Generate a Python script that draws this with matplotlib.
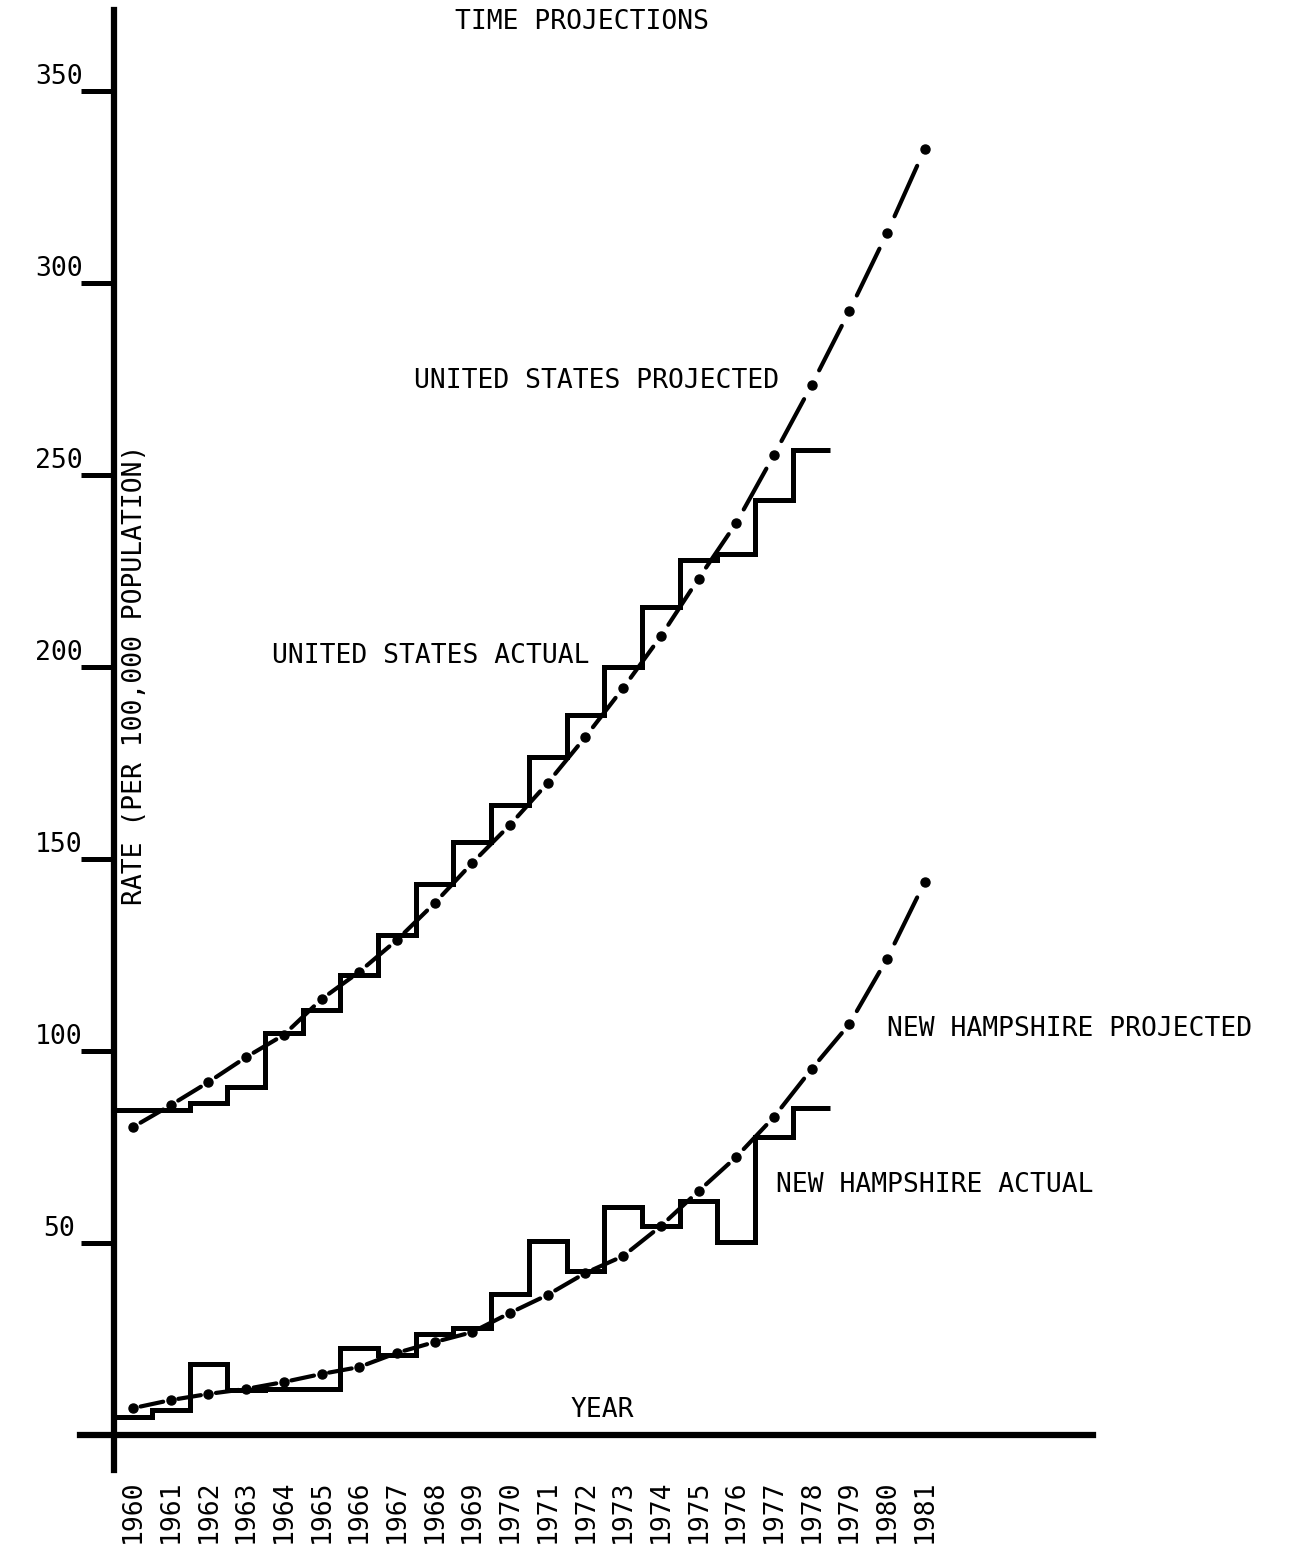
import numpy as np
import matplotlib.pyplot as plt
from matplotlib.collections import LineCollection

# values
years_actual = np.arange(1960, 1979)
us_actual = [84.6, 84.6, 86.5, 90.6, 104.7, 110.7, 119.8, 130.2, 143.5, 154.4,
             164.1, 176.6, 187.5, 200.0, 215.6, 227.9, 229.4, 243.5, 256.5]
nh_actual = [4.7, 6.5, 18.5, 11.8, 12.0, 12.0, 22.7, 20.8, 26.2, 27.8,
             36.7, 50.5, 42.7, 59.4, 54.4, 61.0, 50.3, 77.6, 85.2]

years_proj = np.arange(1960, 1982)
us_proj = [80.2, 85.9, 91.9, 98.4, 104.2, 113.5, 120.6, 128.9, 138.5, 149.0, 158.9,
           169.8, 181.8, 194.5, 208.0, 223.0, 237.5, 255.2, 273.4, 292.7, 313.0, 334.9]
nh_proj = [7.0, 9.1, 10.7, 12.0, 13.8, 15.9, 17.7, 21.4, 24.2, 26.8, 31.8,
           36.5, 42.2, 46.6, 54.4, 63.5, 72.4, 82.8, 95.3, 107.0, 124.0, 144.0]

ytick_vals = [50, 100, 150, 200, 250, 300, 350]
year_labels = [str(y) for y in years_proj]

FONT = 'DejaVu Sans Mono'
FS = 19


def draw_actual(ax, years, vals):
    # one flat step per year, first one runs back to the axis
    edges = np.append(np.asarray(years) - 0.5, years[-1] + 0.5)
    ax.stairs(vals, edges, baseline=None, color='black', linewidth=3.6,
              joinstyle='miter')


def draw_projected(ax, years, vals):
    # dot at every year, one dash in between (dash-dot look)
    x = np.asarray(years, dtype=float)
    y = np.asarray(vals, dtype=float)
    segs = []
    for i in range(len(x) - 1):
        x0 = x[i] + 0.2 * (x[i + 1] - x[i])
        x1 = x[i] + 0.8 * (x[i + 1] - x[i])
        y0 = y[i] + 0.2 * (y[i + 1] - y[i])
        y1 = y[i] + 0.8 * (y[i + 1] - y[i])
        segs.append([(x0, y0), (x1, y1)])
    ax.add_collection(LineCollection(segs, colors='black', linewidths=3.0,
                                     capstyle='round'))
    ax.plot(x, y, 'o', color='black', markersize=6.5)


def main():
    fig = plt.figure(figsize=(12.94, 15.49), dpi=100)
    ax = fig.add_axes([80 / 1294, 79 / 1549, 1013 / 1294, 1460 / 1549])
    ax.set_xlim(1958.594, 1985.464)
    ax.set_ylim(-9.11, 371.1)

    # axes cross each other like the drawing
    for s in ['top', 'right']:
        ax.spines[s].set_visible(False)
    ax.spines['left'].set_position(('data', 1959.5))
    ax.spines['bottom'].set_position(('data', 0))
    ax.spines['left'].set_linewidth(4.5)
    ax.spines['bottom'].set_linewidth(4.5)

    ax.set_yticks(ytick_vals)
    ax.tick_params(axis='y', length=24, width=3.6, labelleft=False)
    for v in ytick_vals:
        ax.annotate(str(v), xy=(1959.5, v), xytext=(-40, 5),
                    textcoords='offset points', ha='center', va='baseline',
                    fontsize=FS, family=FONT)

    ax.set_xticks(years_proj)
    ax.set_xticklabels(year_labels, rotation=90, fontsize=FS, family=FONT)
    ax.tick_params(axis='x', length=0, pad=32)

    draw_actual(ax, years_actual, us_actual)
    draw_actual(ax, years_actual, nh_actual)
    draw_projected(ax, years_proj, us_proj)
    draw_projected(ax, years_proj, nh_proj)

    # labels on the chart
    ax.text(1972.3, 274.5, 'UNITED STATES PROJECTED', ha='center', va='center',
            fontsize=FS, family=FONT)
    ax.text(1967.9, 202.9, 'UNITED STATES ACTUAL', ha='center', va='center',
            fontsize=FS, family=FONT)
    ax.text(1984.85, 105.7, 'NEW HAMPSHIRE PROJECTED', ha='center', va='center',
            fontsize=FS, family=FONT)
    ax.text(1981.27, 65.1, 'NEW HAMPSHIRE ACTUAL', ha='center', va='center',
            fontsize=FS, family=FONT)
    ax.text(1972.44, 6.5, 'YEAR', ha='center', va='center',
            fontsize=FS, family=FONT)
    ax.text(1960.05, 197.9, 'RATE (PER 100,000 POPULATION)', rotation=90,
            ha='center', va='center', fontsize=FS, family=FONT)

    fig.text(582 / 1294, 1 - 22 / 1549, 'TIME PROJECTIONS', ha='center',
             va='center', fontsize=FS, family=FONT)

    fig.savefig('out.png', dpi=100)


if __name__ == '__main__':
    main()
